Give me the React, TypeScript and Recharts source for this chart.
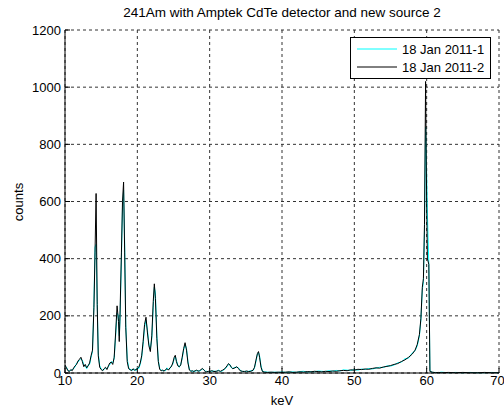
import React from 'react';
import { LineChart, Line, XAxis, YAxis, CartesianGrid } from 'recharts';

// energy bins (keV)
const energy = [
  10.0, 10.2, 10.4, 10.6, 10.8, 11.0, 11.2, 11.4, 11.6, 11.8, 12.0, 12.2, 12.4, 12.6, 12.8, 13.0, 13.2, 13.4, 13.6,
  13.8, 14.0, 14.15, 14.3, 14.45, 14.6, 14.8, 15.0, 15.2, 15.4, 15.6, 15.8, 16.0, 16.2, 16.4, 16.6, 16.8, 17.0,
  17.2, 17.4, 17.5, 17.6, 17.8, 17.95, 18.1, 18.25, 18.4, 18.6, 18.8, 19.0, 19.2, 19.4, 19.6, 19.8, 20.0, 20.2,
  20.4, 20.6, 20.8, 21.0, 21.2, 21.4, 21.6, 21.8, 22.0, 22.2, 22.35, 22.5, 22.7, 22.9, 23.1, 23.3, 23.5, 23.7,
  23.9, 24.1, 24.3, 24.5, 24.7, 24.9, 25.1, 25.25, 25.4, 25.6, 25.8, 26.0, 26.2, 26.4, 26.6, 26.8, 27.0, 27.2,
  27.4, 27.6, 27.8, 28.0, 28.2, 28.4, 28.6, 28.8, 29.0, 29.2, 29.4, 29.6, 29.8, 30.0, 30.3, 30.6, 30.9, 31.2,
  31.5, 31.8, 32.1, 32.4, 32.6, 32.8, 33.0, 33.2, 33.5, 33.75, 34.0, 34.2, 34.5, 34.8, 35.1, 35.4, 35.7, 36.0,
  36.2, 36.4, 36.6, 36.75, 36.9, 37.1, 37.3, 37.6, 38.0, 38.5, 39.0, 39.5, 40.0, 40.5, 41.0, 41.5, 42.0, 42.5,
  43.0, 43.5, 44.0, 44.5, 45.0, 45.5, 46.0, 46.5, 47.0, 47.5, 48.0, 48.5, 49.0, 49.5, 50.0, 50.5, 51.0, 51.5,
  52.0, 52.5, 53.0, 53.5, 54.0, 54.5, 55.0, 55.5, 56.0, 56.5, 57.0, 57.5, 58.0, 58.4, 58.7, 59.0, 59.2, 59.4,
  59.55, 59.7, 59.85, 60.0, 60.1, 60.3, 60.45, 60.8, 61.2, 61.6, 62.0, 63.0, 64.0, 65.0, 66.0, 67.0, 68.0, 69.0, 70.0,
];

// 18 Jan 2011-1 (cyan)
const run1 = [
  25, 20, 10, 7, 9, 12, 15, 22, 35, 38, 45, 50, 45, 28, 25, 15, 28, 30, 55,
  75, 240, 440, 450, 250, 70, 25, 15, 10, 12, 18, 15, 22, 30, 40, 35, 50, 130,
  210, 200, 130, 180, 400, 580, 640, 450, 170, 50, 20, 10, 12, 10, 14, 8, 18, 15,
  30, 55, 100, 160, 185, 150, 100, 85, 120, 230, 300, 280, 130, 45, 15, 10, 8, 9,
  8, 18, 12, 15, 25, 30, 50, 58, 45, 28, 20, 30, 50, 80, 100, 85, 40, 12,
  8, 5, 7, 6, 8, 9, 6, 10, 14, 12, 6, 6, 4, 7, 6, 7, 5, 10,
  5, 8, 14, 22, 30, 30, 18, 16, 20, 20, 18, 10, 5, 6, 5, 6, 8, 8,
  18, 40, 65, 72, 60, 25, 6, 4, 3, 2, 3, 2, 4, 2, 3, 4, 2, 5,
  6, 3, 5, 4, 7, 6, 5, 8, 6, 9, 7, 11, 10, 9, 12, 10, 14, 12,
  16, 14, 17, 20, 19, 25, 24, 28, 36, 38, 50, 52, 70, 78, 95, 130, 185, 290,
  320, 500, 860, 700, 560, 380, 8, 2, 2, 1, 3, 1, 2, 1, 2, 1, 1, 2, 1,
];

// 18 Jan 2011-2 (black)
const run2 = [
  28, 18, 8, 5, 12, 8, 18, 25, 30, 42, 48, 55, 40, 22, 30, 18, 25, 35, 60,
  80, 230, 420, 628, 240, 60, 20, 12, 8, 15, 20, 12, 25, 35, 38, 30, 55, 140,
  235, 180, 110, 200, 420, 600, 668, 420, 160, 40, 15, 12, 8, 15, 10, 12, 15, 20,
  35, 60, 110, 170, 195, 140, 95, 75, 130, 250, 312, 260, 120, 40, 12, 8, 10, 6,
  12, 15, 10, 18, 22, 35, 55, 62, 40, 25, 22, 28, 55, 85, 106, 80, 35, 10,
  6, 8, 5, 8, 10, 6, 8, 12, 16, 10, 5, 4, 6, 5, 8, 5, 6, 8,
  6, 10, 15, 25, 33, 28, 20, 15, 18, 22, 15, 8, 6, 5, 7, 5, 6, 10,
  20, 45, 68, 75, 55, 20, 5, 3, 2, 3, 2, 3, 2, 3, 4, 2, 3, 4,
  3, 5, 4, 6, 5, 4, 6, 5, 7, 6, 8, 9, 8, 11, 10, 13, 12, 14,
  13, 16, 18, 17, 21, 23, 26, 30, 33, 40, 46, 55, 66, 80, 100, 135, 190, 300,
  330, 520, 1020, 600, 400, 380, 5, 3, 1, 2, 1, 2, 1, 2, 1, 1, 2, 1, 1,
];

const xTicks = [10, 20, 30, 40, 50, 60, 70];
const yTicks = [0, 200, 400, 600, 800, 1000, 1200];
const seriesNames = ['18 Jan 2011-1', '18 Jan 2011-2'];
const seriesColors = ['#00ffff', '#000000'];

const data = energy.map((e, i) => ({ keV: e, run1: run1[i], run2: run2[i] }));

const font = '"Liberation Sans", Arial, Helvetica, sans-serif';

export default function App() {
  return (
    <div style={{ position: 'absolute', left: 0, top: 0, width: 504, height: 409, background: '#fff', fontFamily: font }}>
      <div
        style={{
          position: 'absolute',
          left: 65,
          top: 5,
          width: 434,
          textAlign: 'center',
          fontSize: 13.5,
          color: '#000',
        }}
      >
        241Am with Amptek CdTe detector and new source 2
      </div>
      <LineChart width={504} height={409} data={data} margin={{ top: 30, right: 5, bottom: 0, left: 0 }}>
        <CartesianGrid stroke="#333" strokeDasharray="3 3" horizontalValues={yTicks} verticalValues={xTicks} />
        <XAxis
          dataKey="keV"
          type="number"
          domain={[10, 70]}
          ticks={xTicks}
          height={36}
          tickSize={-5}
          tickMargin={8}
          stroke="#000"
          tick={{ fill: '#000', fontSize: 13 }}
          label={{ value: 'keV', position: 'insideBottom', offset: 4, fill: '#000', fontSize: 13 }}
        />
        <YAxis
          type="number"
          domain={[0, 1200]}
          ticks={yTicks}
          width={65}
          tickSize={-5}
          tickMargin={9}
          stroke="#000"
          tick={{ fill: '#000', fontSize: 13 }}
          label={{
            content: () => (
              <text x={18} y={202} transform="rotate(-90 18 202)" textAnchor="middle" dominantBaseline="central" fontSize={13} fill="#000">
                counts
              </text>
            ),
          }}
        />
        <Line type="linear" dataKey="run1" name={seriesNames[0]} stroke={seriesColors[0]} strokeWidth={1} dot={false} isAnimationActive={false} />
        <Line type="linear" dataKey="run2" name={seriesNames[1]} stroke={seriesColors[1]} strokeWidth={1} dot={false} isAnimationActive={false} />
      </LineChart>
      <div
        style={{
          position: 'absolute',
          left: 350,
          top: 37,
          width: 141,
          height: 42,
          boxSizing: 'border-box',
          border: '1px solid #000',
          background: '#fff',
          paddingTop: 2,
          fontSize: 13,
          color: '#000',
        }}
      >
        {seriesNames.map((name, i) => (
          <div key={name} style={{ display: 'flex', alignItems: 'center', height: 18 }}>
            <svg width={40} height={4} style={{ marginLeft: 6 }}>
              <line x1={0} y1={2} x2={40} y2={2} stroke={seriesColors[i]} strokeWidth={1} />
            </svg>
            <span style={{ marginLeft: 5, whiteSpace: 'nowrap' }}>{name}</span>
          </div>
        ))}
      </div>
    </div>
  );
}
